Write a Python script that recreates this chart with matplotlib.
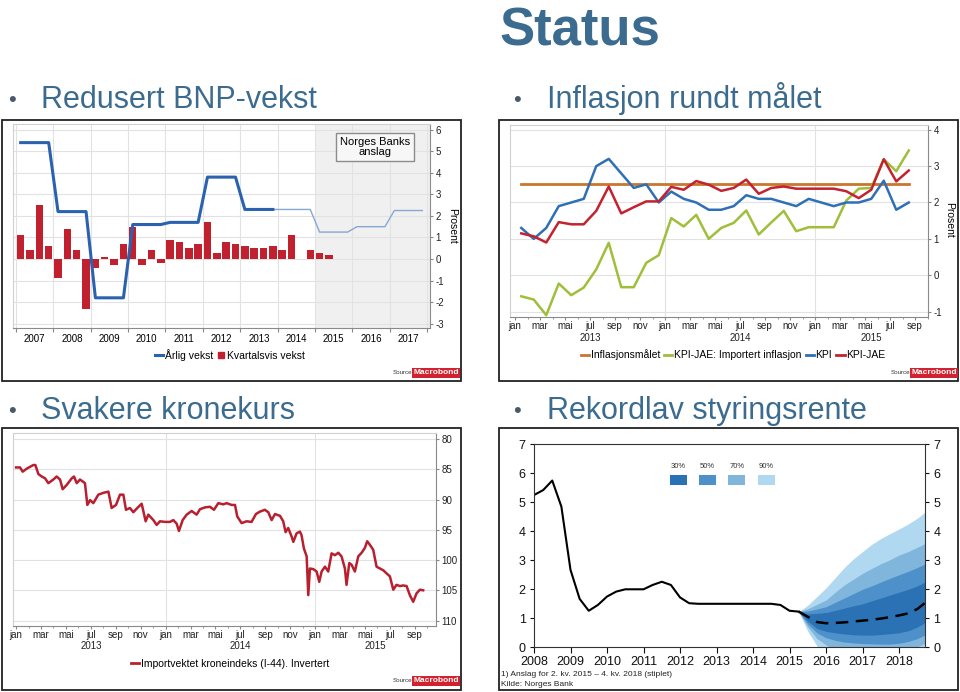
import numpy as np
import matplotlib
matplotlib.use("Agg")
import matplotlib.pyplot as plt
from matplotlib.lines import Line2D
from matplotlib.patches import Rectangle
from matplotlib.transforms import blended_transform_factory

plt.rcParams["font.family"] = ["Liberation Sans", "DejaVu Sans"]
plt.rcParams["axes.unicode_minus"] = False

W, H = 960, 692

# BNP-vekst, quarterly bars from 2007 Q1, annual line per year
bnp_first_year = 2007
bnp_quarterly = [1.1, 0.4, 2.5, 0.6, -0.9, 1.4, 0.4, -2.3, -0.4, 0.1, -0.3, 0.7,
                 1.5, -0.3, 0.4, -0.2, 0.9, 0.8, 0.5, 0.7, 1.7, 0.3, 0.8, 0.7,
                 0.6, 0.5, 0.5, 0.6, 0.4, 1.1, 0.0, 0.4, 0.3, 0.2]
bnp_annual = [5.4, 2.2, -1.8, 1.6, 1.7, 3.8, 2.3]        # 2007-2013
bnp_annual_forecast = [2.3, 1.25, 1.5, 2.25]              # 2014-2017
bnp_year_labels = ["2007", "2008", "2009", "2010", "2011", "2012",
                   "2013", "2014", "2015", "2016", "2017"]
forecast_start = 2015

# inflasjon, monthly from jan 2013
month_names = ["jan", "mar", "mai", "jul", "sep", "nov"]
year_names = ["2013", "2014", "2015"]
inflation_target = 2.5
kpi = [1.3, 1.0, 1.3, 1.9, 2.0, 2.1, 3.0, 3.2, 2.8, 2.4, 2.5, 2.0,
       2.3, 2.1, 2.0, 1.8, 1.8, 1.9, 2.2, 2.1, 2.1, 2.0, 1.9, 2.1,
       2.0, 1.9, 2.0, 2.0, 2.1, 2.6, 1.8, 2.0]
kpi_jae = [1.15, 1.07, 0.9, 1.46, 1.4, 1.4, 1.77, 2.44, 1.7, 1.87, 2.03, 2.03,
           2.43, 2.35, 2.59, 2.49, 2.32, 2.4, 2.63, 2.24, 2.4, 2.44, 2.38, 2.38,
           2.38, 2.38, 2.31, 2.12, 2.35, 3.19, 2.58, 2.88]
kpi_jae_import = [-0.58, -0.67, -1.1, -0.23, -0.55, -0.34, 0.16, 0.89, -0.33, -0.33, 0.34, 0.55,
                  1.57, 1.34, 1.66, 1.0, 1.3, 1.44, 1.78, 1.12, 1.45, 1.77, 1.21, 1.32,
                  1.32, 1.32, 2.05, 2.38, 2.4, 3.19, 2.86, 3.43]

# importvektet kroneindeks, months since jan 2013
krone_month = [0.00, 0.32, 0.53, 0.86, 1.12, 1.39, 1.55, 1.79, 2.06, 2.33,
               2.59, 2.99, 3.26, 3.53, 3.74, 4.06, 4.47, 4.65, 4.87, 5.13,
               5.53, 5.72, 5.94, 6.20, 6.60, 7.01, 7.41, 7.67, 8.02, 8.34,
               8.61, 8.82, 9.14, 9.41, 9.73, 10.08, 10.40, 10.61, 11.02, 11.28,
               11.55, 11.95, 12.35, 12.62, 12.89, 13.07, 13.37, 13.69, 14.09, 14.49,
               14.76, 15.16, 15.56, 15.88, 16.23, 16.63, 16.90, 17.30, 17.57, 17.75,
               18.10, 18.50, 18.90, 19.25, 19.57, 19.97, 20.24, 20.51, 20.78, 21.18,
               21.44, 21.63, 21.84, 22.11, 22.25, 22.51, 22.78, 22.91, 23.10, 23.32,
               23.45, 23.58, 23.85, 24.12, 24.33, 24.52, 24.79, 25.05, 25.32, 25.59,
               25.86, 26.12, 26.39, 26.52, 26.74, 26.93, 27.19, 27.46, 27.73, 27.99,
               28.18, 28.40, 28.66, 28.93, 29.20, 29.47, 29.73, 30.00, 30.27, 30.53,
               30.80, 31.07, 31.34, 31.60, 31.87, 32.14, 32.41, 32.67]
krone_index = [84.7, 84.7, 85.4, 84.9, 84.6, 84.3, 84.3, 85.8, 86.2, 86.5,
               87.3, 86.7, 86.2, 86.7, 88.3, 87.6, 86.5, 86.2, 87.3, 86.7,
               87.3, 90.9, 90.1, 90.6, 89.2, 88.9, 88.7, 91.4, 90.9, 89.2,
               89.2, 91.7, 91.4, 92.1, 91.4, 90.7, 93.6, 92.5, 93.4, 94.2,
               93.6, 93.7, 93.7, 93.4, 94.0, 95.2, 93.4, 92.5, 91.9, 92.5,
               91.6, 91.3, 91.2, 91.7, 90.6, 90.8, 90.6, 90.9, 90.9, 92.8,
               93.9, 93.6, 93.7, 92.4, 92.0, 91.7, 92.1, 93.4, 92.4, 92.7,
               93.6, 95.4, 94.7, 96.1, 97.0, 95.6, 95.3, 95.9, 98.1, 99.4,
               105.8, 101.4, 101.5, 101.9, 103.6, 101.9, 101.1, 101.9, 98.9, 99.2,
               98.8, 99.4, 101.4, 104.1, 100.5, 100.8, 101.9, 99.4, 98.8, 98.0,
               96.9, 97.5, 98.3, 101.1, 101.4, 101.7, 102.2, 102.7, 104.9, 104.1,
               104.3, 104.2, 104.3, 105.8, 106.9, 105.5, 104.9, 105.0]

# styringsrente, quarterly from 2008 Q1, forecast from 2015 Q2
rate_first_year = 2008
policy_rate = [5.25, 5.42, 5.75, 4.85, 2.67, 1.67, 1.26, 1.46, 1.75, 1.92,
               2.0, 2.0, 2.0, 2.15, 2.26, 2.15, 1.72, 1.52, 1.5, 1.5,
               1.5, 1.5, 1.5, 1.5, 1.5, 1.5, 1.5, 1.46, 1.26, 1.23]
rate_forecast = [1.23, 1.05, 0.87, 0.83, 0.84, 0.86, 0.89, 0.92, 0.95, 0.99,
                 1.04, 1.10, 1.17, 1.32, 1.57]
fan90_hi = [1.23, 1.45, 1.75, 2.05, 2.4, 2.75, 3.05, 3.3, 3.55, 3.75, 3.92, 4.08, 4.25, 4.45, 4.7]
fan70_hi = [1.23, 1.33, 1.48, 1.63, 1.9, 2.15, 2.35, 2.55, 2.72, 2.88, 3.02, 3.18, 3.3, 3.45, 3.6]
fan50_hi = [1.23, 1.25, 1.32, 1.4, 1.55, 1.7, 1.85, 2.0, 2.12, 2.25, 2.38, 2.5, 2.62, 2.75, 2.9]
fan30_hi = [1.23, 1.15, 1.17, 1.2, 1.27, 1.35, 1.43, 1.5, 1.6, 1.7, 1.8, 1.9, 2.0, 2.12, 2.27]
fan30_lo = [1.23, 0.9, 0.65, 0.55, 0.5, 0.46, 0.43, 0.42, 0.42, 0.44, 0.47, 0.5, 0.57, 0.7, 0.88]
fan50_lo = [1.23, 0.8, 0.5, 0.33, 0.24, 0.18, 0.15, 0.13, 0.12, 0.11, 0.11, 0.14, 0.2, 0.3, 0.45]
fan70_lo = [1.23, 0.7, 0.3, 0.08, -0.1, -0.2, -0.25, -0.3, -0.3, -0.3, -0.28, -0.2, -0.1, 0.02, 0.15]
fan90_lo = [1.23, 0.55, 0.05, -0.3, -0.6, -0.8, -0.9, -1.0, -1.0, -1.0, -1.0, -0.9, -0.8, -0.6, -0.4]
fan_labels = ["30%", "50%", "70%", "90%"]
fan_colors = ["#2b72b4", "#4e90c9", "#80b6dc", "#b0d8f0"]

TEXT_BLUE = "#3b6b8f"
RED = "#c1202e"
GRID = "#e2e2e2"

fig = plt.figure(figsize=(W / 100, H / 100), dpi=100)


def px_axes(left, right, top, bottom):
    return fig.add_axes([left / W, 1 - bottom / H, (right - left) / W, (bottom - top) / H])


def ftext(x, y, s, **kw):
    return fig.text(x / W, 1 - y / H, s, **kw)


def frame(x0, y0, x1, y1):
    fig.add_artist(Rectangle((x0 / W, 1 - y1 / H), (x1 - x0) / W, (y1 - y0) / H,
                             transform=fig.transFigure, fill=False, ec="#222222", lw=1.3))


def source(x_right, y):
    ftext(x_right - 43, y, "Source:", ha="right", va="center", fontsize=4.5, color="#333333")
    ftext(x_right - 21, y, "Macrobond", ha="center", va="center", fontsize=6, color="white",
          weight="bold", bbox=dict(boxstyle="square,pad=0.2", fc="#d3222f", ec="none"))


def macrobond_style(ax):
    ax.yaxis.tick_right()
    ax.tick_params(axis="both", labelsize=7, color="#888888", labelcolor="#222222", length=2.5, pad=1.5)
    ax.tick_params(axis="x", which="major", length=2, pad=1)
    ax.tick_params(axis="x", which="minor", length=1.5, color="#888888")
    for side in ("left", "top"):
        ax.spines[side].set_color("#d0d0d0")
    for side in ("right", "bottom"):
        ax.spines[side].set_color("#8a8a8a")
    ax.set_axisbelow(True)


def month_axis(ax, xmin, xmax, label_y):
    ax.set_xlim(xmin, xmax)
    ticks = np.arange(0, int(xmax) + 1, 2)
    ax.set_xticks(ticks)
    ax.set_xticklabels([month_names[(t % 12) // 2] for t in ticks])
    ax.set_xticks(np.arange(0, int(xmax) + 1), minor=True)
    trans = blended_transform_factory(ax.transData, fig.transFigure)
    for k, name in enumerate(year_names):
        a, b = max(12 * k, 0), min(12 * k + 12, xmax)
        ax.text((a + b) / 2, 1 - label_y / H, name, transform=trans, ha="center",
                va="center", fontsize=7, color="#222222")
    for k in range(1, len(year_names)):
        ax.axvline(12 * k, color=GRID, lw=0.8, zorder=0)


# ---- heading texts
ftext(580, 45, "Status", ha="center", va="baseline", fontsize=38, weight="bold", color=TEXT_BLUE)
for bx, tx, y, s in [(8, 41, 108, "Redusert BNP-vekst"), (513, 547, 108, "Inflasjon rundt målet"),
                     (8, 41, 419, "Svakere kronekurs"), (513, 547, 419, "Rekordlav styringsrente")]:
    ftext(bx, y - 2, "•", ha="left", va="baseline", fontsize=16, color="#4a5a68")
    ftext(tx, y, s, ha="left", va="baseline", fontsize=22, color=TEXT_BLUE)

frame(1.5, 120, 461, 381)
frame(499, 120, 957.5, 381)
frame(1.5, 428, 461, 690)
frame(499, 428, 957.5, 690)

# ---- BNP chart
ax1 = px_axes(13, 430, 124.3, 328)
ax1.set_xlim(2006.92, 2018.08)
ax1.set_ylim(-3.2, 6.25)
ax1.axvspan(forecast_start, 2018.08, color="#f0f0f0", zorder=0, lw=0)
qx = bnp_first_year + 0.125 + 0.25 * np.arange(len(bnp_quarterly))
ax1.bar(qx, bnp_quarterly, width=0.2, color=RED, zorder=2)
hist_y = np.repeat(bnp_annual, 4)
hist_x = bnp_first_year + 0.125 + 0.25 * np.arange(len(hist_y))
ax1.plot(hist_x, hist_y, color="#2a62b0", lw=2.2, zorder=4)
fc_y = np.concatenate([[bnp_annual[-1]], np.repeat(bnp_annual_forecast, 4)])
fc_x = hist_x[-1] + 0.25 * np.arange(len(fc_y))
ax1.plot(fc_x, fc_y, color="#88a8d2", lw=1.0, zorder=3)
ax1.set_yticks(range(-3, 7))
years = bnp_first_year + np.arange(len(bnp_year_labels) + 1)
ax1.set_xticks(years)
ax1.set_xticklabels([])
ax1.set_xticks(years[:-1] + 0.5, minor=True)
ax1.set_xticklabels(bnp_year_labels, minor=True)
macrobond_style(ax1)
ax1.tick_params(axis="x", which="major", length=3)
ax1.tick_params(axis="x", which="minor", length=0, labelsize=7, pad=4)
ax1.grid(color=GRID, lw=0.8)
ftext(452, 226, "Prosent", rotation=270, ha="center", va="center", fontsize=7.5)
ftext(375, 147, "Norges Banks\nanslag", ha="center", va="center", fontsize=8, linespacing=1.1,
      bbox=dict(boxstyle="square,pad=0.35", fc="#f7f7f7", ec="#8c8c8c", lw=1))
fig.legend([Line2D([], [], color="#2a62b0", lw=2.2),
            Line2D([], [], color=RED, marker="s", ls="none", markersize=4)],
           ["Årlig vekst", "Kvartalsvis vekst"], loc="center",
           bbox_to_anchor=(230 / W, 1 - 355 / H), ncol=2, frameon=False, fontsize=7.5,
           handlelength=0.8, handletextpad=0.15, columnspacing=0.4)
source(457, 373)

# ---- inflation chart
ax2 = px_axes(510, 928, 124.7, 317)
m = np.arange(len(kpi)) + 0.5
ax2.plot(m, np.full(len(m), inflation_target), color="#c8772d", lw=2.0)
ax2.plot(m, kpi_jae_import, color="#9fbf3b", lw=1.8)
ax2.plot(m, kpi, color="#2f6fb6", lw=1.8)
ax2.plot(m, kpi_jae, color="#c3222f", lw=1.8)
ax2.set_ylim(-1.15, 4.14)
ax2.set_yticks(range(-1, 5))
ax2.grid(axis="y", color=GRID, lw=0.8)
month_axis(ax2, -0.4, 33.04, 338)
macrobond_style(ax2)
ftext(949, 220, "Prosent", rotation=270, ha="center", va="center", fontsize=7.5)
fig.legend([Line2D([], [], color=c, lw=2) for c in ["#c8772d", "#9fbf3b", "#2f6fb6", "#c3222f"]],
           ["Inflasjonsmålet", "KPI-JAE: Importert inflasjon", "KPI", "KPI-JAE"], loc="center",
           bbox_to_anchor=(733 / W, 1 - 355 / H), ncol=4, frameon=False, fontsize=7.5,
           handlelength=0.8, handletextpad=0.15, columnspacing=0.4)
source(955, 373)

# ---- krone chart
ax3 = px_axes(12.7, 436, 433.3, 626)
ax3.plot(krone_month, krone_index, color="#b81f2f", lw=1.8)
ax3.set_ylim(110.9, 79.06)
ax3.set_yticks(range(80, 111, 5))
ax3.grid(axis="y", color=GRID, lw=0.8)
month_axis(ax3, -0.27, 33.7, 646)
macrobond_style(ax3)
fig.legend([Line2D([], [], color="#b81f2f", lw=2)],
           ["Importvektet kroneindeks (I-44). Invertert"], loc="center",
           bbox_to_anchor=(230 / W, 1 - 664 / H), frameon=False, fontsize=7.5,
           handlelength=0.8, handletextpad=0.15)
source(457, 681)

# ---- policy rate chart
ax4 = px_axes(534, 925, 444.3, 647.3)
rx = rate_first_year + 0.25 * np.arange(len(policy_rate))
fx = rx[-1] + 0.25 * np.arange(len(rate_forecast))
for lo, hi, col in [(fan90_lo, fan90_hi, fan_colors[3]), (fan70_lo, fan70_hi, fan_colors[2]),
                    (fan50_lo, fan50_hi, fan_colors[1]), (fan30_lo, fan30_hi, fan_colors[0])]:
    ax4.fill_between(fx, lo, hi, color=col, lw=0)
ax4.plot(rx, policy_rate, color="black", lw=1.5)
ax4.plot(fx, rate_forecast, color="black", lw=1.8, dashes=(5, 3))
ax4.set_xlim(2008, 2018.71)
ax4.set_ylim(0, 7)
ax4.set_xticks(range(2008, 2019))
ax4.set_yticks(range(0, 8))
ax4.tick_params(labelsize=9, left=True, right=True, labelleft=True, labelright=True,
                length=3, width=0.8, pad=3, colors="#111111")
ax4.tick_params(axis="x", length=4, pad=2)
for sp in ax4.spines.values():
    sp.set_linewidth(0.8)
    sp.set_color("#333333")
for k, (lab, col) in enumerate(zip(fan_labels, fan_colors)):
    x0 = 670 + 29.2 * k
    fig.add_artist(Rectangle((x0 / W, 1 - 485 / H), 17 / W, 10 / H,
                             transform=fig.transFigure, color=col, lw=0))
    ftext(x0 + 8.5, 467, lab, ha="center", va="center", fontsize=5.5, color="#333333")
ftext(501, 675, "1) Anslag for 2. kv. 2015 – 4. kv. 2018 (stiplet)", ha="left", va="center",
      fontsize=6, color="#222222")
ftext(501, 684, "Kilde: Norges Bank", ha="left", va="center", fontsize=6, color="#222222")

fig.savefig("out.png", dpi=100)
